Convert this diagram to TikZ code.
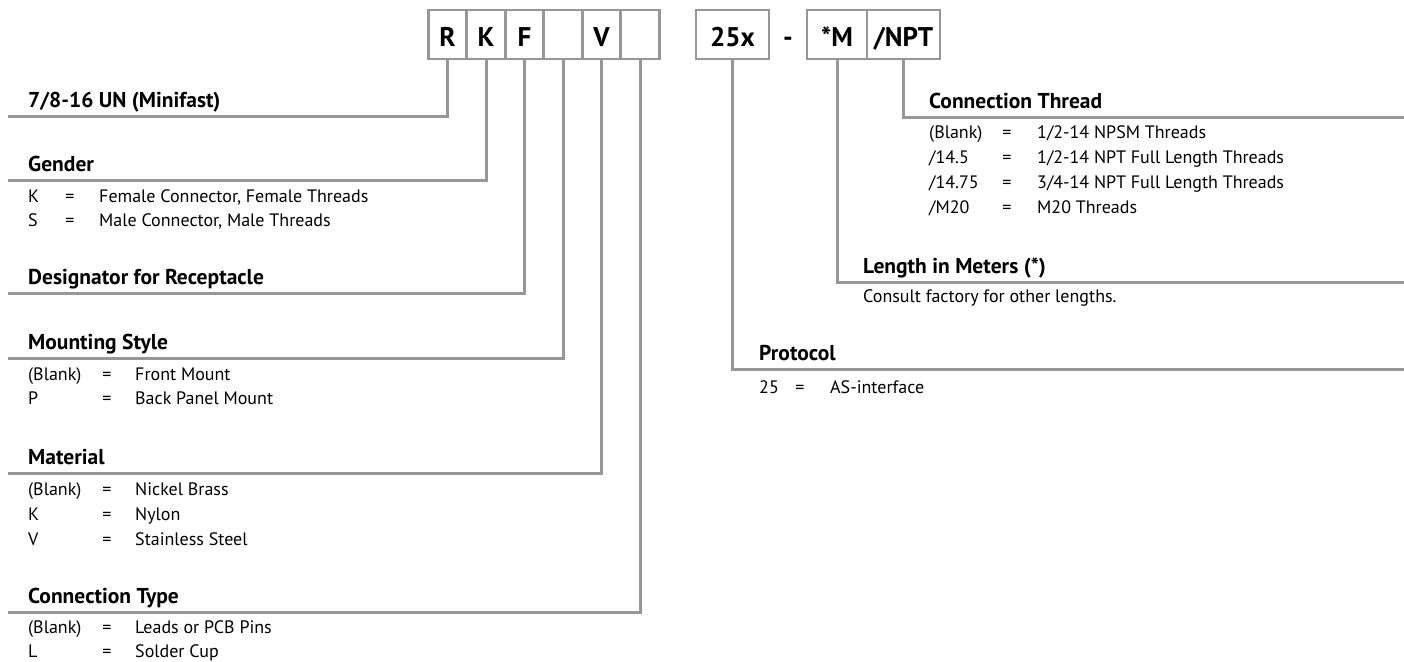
\documentclass[tikz,border=0pt]{standalone}
\usepackage{fontspec}
\setmainfont{PT Sans}
\usetikzlibrary{positioning}
\definecolor{linegray}{RGB}{150,151,156}

\begin{document}
\begin{tikzpicture}[x=1pt,y=-1pt]
\tikzstyle{b}=[draw=linegray,line width=2.6pt,minimum width=38.5pt,minimum height=49pt,inner sep=0pt,text height=23pt,text depth=0pt,font=\fontsize{27}{27}\selectfont\bfseries]
\tikzstyle{hd}=[anchor=base west,inner sep=0pt,font=\fontsize{21.5}{21.5}\selectfont\bfseries]
\tikzstyle{tx}=[anchor=base west,inner sep=0pt,font=\fontsize{18}{18}\selectfont]
\tikzstyle{eq}=[anchor=base,inner sep=0pt,font=\fontsize{18}{18}\selectfont]
\tikzstyle{ln}=[draw=linegray,line width=3pt]
   \useasboundingbox (0,0) rectangle (1404,661);

   % part number boxes
   \draw (447.5,34.5) node (bR) [b] {R};
   \draw (486,34.5) node (bK) [b] {K};
   \draw (524.5,34.5) node (bF) [b] {F};
   \draw (563,34.5) node (bM) [b] {};
   \draw (601.5,34.5) node (bV) [b] {V};
   \draw (640,34.5) node (bC) [b] {};
   \draw (732.5,34.5) node (bP) [b,minimum width=73pt] {25x};
   \draw (788,46) node (dash) [anchor=base,inner sep=0pt,font=\fontsize{27}{27}\selectfont\bfseries] {-};
   \draw (837,34.5) node (bL) [b,minimum width=60pt] {*M};
   \draw (903.5,34.5) node (bT) [b,minimum width=73pt] {/NPT};

   % free ends of the leaders
   \coordinate (eR) at (8,116);
   \coordinate (eK) at (8,180);
   \coordinate (eF) at (8,293);
   \coordinate (eM) at (8,358);
   \coordinate (eV) at (8,473);
   \coordinate (eC) at (8,612);
   \coordinate (eP) at (1404,369);
   \coordinate (eL) at (1404,282);
   \coordinate (eT) at (1404,117);

   \path [ln] (bR.south) |- (eR);
   \path [ln] (bK.south) |- (eK);
   \path [ln] (bF.south) |- (eF);
   \path [ln] (bM.south) |- (eM);
   \path [ln] (bV.south) |- (eV);
   \path [ln] (bC.south) |- (eC);
   \path [ln] (bP.south) |- (eP);
   \path [ln] (bL.south) |- (eL);
   \path [ln] (bT.south) |- (eT);

   % left side
   \draw (28,107) node (hR) [hd] {7/8-16 UN (Minifast)};

   \draw (28,171) node (hK) [hd] {Gender};
   \draw (28,202) node (k1) [tx] {K};
   \draw (70,202) node (k1e) [eq] {=};
   \draw (99,202) node (k1d) [tx] {Female Connector, Female Threads};
   \draw (28,226) node (k2) [tx] {S};
   \draw (70,226) node (k2e) [eq] {=};
   \draw (99,226) node (k2d) [tx] {Male Connector, Male Threads};

   \draw (28,284) node (hF) [hd] {Designator for Receptacle};

   \draw (28,349) node (hM) [hd] {Mounting Style};
   \draw (28,380) node (m1) [tx] {(Blank)};
   \draw (107,380) node (m1e) [eq] {=};
   \draw (135,380) node (m1d) [tx] {Front Mount};
   \draw (28,404) node (m2) [tx] {P};
   \draw (107,404) node (m2e) [eq] {=};
   \draw (135,404) node (m2d) [tx] {Back Panel Mount};

   \draw (28,464) node (hV) [hd] {Material};
   \draw (28,495) node (v1) [tx] {(Blank)};
   \draw (107,495) node (v1e) [eq] {=};
   \draw (135,495) node (v1d) [tx] {Nickel Brass};
   \draw (28,520) node (v2) [tx] {K};
   \draw (107,520) node (v2e) [eq] {=};
   \draw (135,520) node (v2d) [tx] {Nylon};
   \draw (28,545) node (v3) [tx] {V};
   \draw (107,545) node (v3e) [eq] {=};
   \draw (135,545) node (v3d) [tx] {Stainless Steel};

   \draw (28,603) node (hC) [hd] {Connection Type};
   \draw (28,633) node (c1) [tx] {(Blank)};
   \draw (107,633) node (c1e) [eq] {=};
   \draw (135,633) node (c1d) [tx] {Leads or PCB Pins};
   \draw (28,657) node (c2) [tx] {L};
   \draw (107,657) node (c2e) [eq] {=};
   \draw (135,657) node (c2d) [tx] {Solder Cup};

   % right side
   \draw (929,108) node (hT) [hd] {Connection Thread};
   \draw (929,138) node (t1) [tx] {(Blank)};
   \draw (1007,138) node (t1e) [eq] {=};
   \draw (1037,138) node (t1d) [tx] {1/2-14 NPSM Threads};
   \draw (929,163) node (t2) [tx] {/14.5};
   \draw (1007,163) node (t2e) [eq] {=};
   \draw (1037,163) node (t2d) [tx] {1/2-14 NPT Full Length Threads};
   \draw (929,188) node (t3) [tx] {/14.75};
   \draw (1007,188) node (t3e) [eq] {=};
   \draw (1037,188) node (t3d) [tx] {3/4-14 NPT Full Length Threads};
   \draw (929,213) node (t4) [tx] {/M20};
   \draw (1007,213) node (t4e) [eq] {=};
   \draw (1037,213) node (t4d) [tx] {M20 Threads};

   \draw (863,273) node (hL) [hd] {Length in Meters (*)};
   \draw (863,302) node (l1) [tx] {Consult factory for other lengths.};

   \draw (759,360) node (hP) [hd] {Protocol};
   \draw (759,393) node (p1) [tx] {25};
   \draw (800,393) node (p1e) [eq] {=};
   \draw (830,393) node (p1d) [tx] {AS-interface};
\end{tikzpicture}
\end{document}
